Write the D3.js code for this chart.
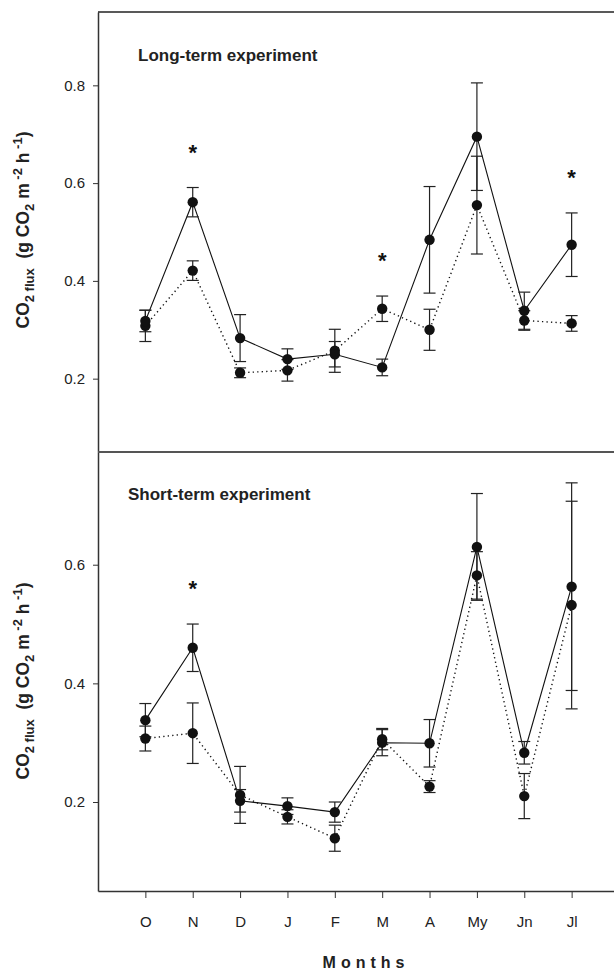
<!DOCTYPE html>
<html>
<head>
<meta charset="utf-8">
<script src="https://cdn.jsdelivr.net/npm/d3@7"></script>
<style>
  body { margin: 0; background: #fff; }
  svg { display: block; font-family: "Liberation Sans", Arial, sans-serif; }
</style>
</head>
<body>
<script>
// months on the x axis
var months = ["O", "N", "D", "J", "F", "M", "A", "My", "Jn", "Jl"];

// long-term experiment (top panel)
var longSolid     = [0.318, 0.561, 0.283, 0.240, 0.250, 0.223, 0.484, 0.695, 0.339, 0.474];
var longSolidErr  = [0.022, 0.030, 0.048, 0.021, 0.026, 0.017, 0.109, 0.110, 0.038, 0.065];
var longDotted    = [0.308, 0.421, 0.212, 0.217, 0.257, 0.343, 0.300, 0.555, 0.319, 0.313];
var longDottedErr = [0.032, 0.020, 0.010, 0.022, 0.044, 0.026, 0.042, 0.100, 0.020, 0.016];
var longStars     = ["N", "M", "Jl"];
var longTicks     = [0.2, 0.4, 0.6, 0.8];

// short-term experiment (bottom panel)
var shortSolid     = [0.338, 0.460, 0.202, 0.193, 0.183, 0.300, 0.299, 0.630, 0.283, 0.563];
var shortSolidErr  = [0.028, 0.040, 0.019, 0.014, 0.017, 0.022, 0.040, 0.090, 0.019, 0.175];
var shortDotted    = [0.307, 0.316, 0.212, 0.175, 0.139, 0.306, 0.226, 0.582, 0.210, 0.532];
var shortDottedErr = [0.021, 0.051, 0.048, 0.012, 0.022, 0.018, 0.010, 0.040, 0.038, 0.175];
var shortStars     = ["N"];
var shortTicks     = [0.2, 0.4, 0.6];

var W = 614, H = 971;
var plotLeft = 98, plotTop = 12, plotMid = 452, plotBottom = 891;

var svg = d3.select("body").append("svg")
    .attr("width", W)
    .attr("height", H);

var x = d3.scalePoint().domain(months).range([plotLeft, 619]).padding(1);

function panel(opt) {
    var y = d3.scaleLinear().domain(opt.domain).range([opt.y1, opt.y0]);
    var g = svg.append("g");

    // left axis
    var ax = g.append("g")
        .attr("transform", "translate(" + plotLeft + ",0)")
        .call(d3.axisLeft(y).tickValues(opt.ticks).tickFormat(d3.format(".1f"))
            .tickSize(5).tickSizeOuter(0).tickPadding(8));
    ax.selectAll("text").style("font-size", "15px").attr("fill", "#222");
    ax.selectAll("line").attr("stroke", "#333");
    ax.select(".domain").attr("stroke", "#333").attr("stroke-width", 1.5);

    // top border of the panel
    g.append("line")
        .attr("x1", plotLeft).attr("x2", W)
        .attr("y1", opt.y0).attr("y2", opt.y0)
        .attr("stroke", opt.borderColor).attr("stroke-width", opt.borderWidth);

    // title
    g.append("text")
        .attr("x", opt.titleX).attr("y", opt.titleY)
        .style("font-size", "17px").style("font-weight", "bold")
        .attr("fill", "#222")
        .text(opt.title);

    // y axis label
    var lab = g.append("text")
        .attr("transform", "translate(29," + opt.labelY + ") rotate(-90)")
        .attr("text-anchor", "middle")
        .style("font-size", "17.5px").style("font-weight", "bold")
        .attr("fill", "#222");
    lab.append("tspan").text("CO");
    lab.append("tspan").attr("dy", 5).style("font-size", "13px").text("2 flux");
    lab.append("tspan").attr("dy", -5).text("\u00a0 (g CO");
    lab.append("tspan").attr("dy", 5).style("font-size", "13px").text("2");
    lab.append("tspan").attr("dy", -5).text(" m");
    lab.append("tspan").attr("dy", -7).style("font-size", "13px").text("\u00a0-2");
    lab.append("tspan").attr("dy", 7).text(" h");
    lab.append("tspan").attr("dy", -7).style("font-size", "13px").text("\u00a0-1");
    lab.append("tspan").attr("dy", 7).text(")");

    var series = [
        {vals: opt.dotted, err: opt.dottedErr, dash: "1.3,3.2"},
        {vals: opt.solid, err: opt.solidErr, dash: null}
    ];

    var line = d3.line()
        .x(function(d, i) { return x(months[i]); })
        .y(function(d) { return y(d); });

    series.forEach(function(s) {
        g.append("path")
            .datum(s.vals)
            .attr("fill", "none")
            .attr("stroke", "#111")
            .attr("stroke-width", s.dash ? 1.4 : 1.1)
            .attr("stroke-dasharray", s.dash)
            .attr("d", line);
    });

    series.forEach(function(s) {
        var eb = g.append("g").attr("stroke", "#222").attr("stroke-width", 1.2);
        s.vals.forEach(function(v, i) {
            var cx = x(months[i]);
            var hi = y(v + s.err[i]), lo = y(v - s.err[i]);
            eb.append("line").attr("x1", cx).attr("x2", cx).attr("y1", hi).attr("y2", lo);
            eb.append("line").attr("x1", cx - 6).attr("x2", cx + 6).attr("y1", hi).attr("y2", hi);
            eb.append("line").attr("x1", cx - 6).attr("x2", cx + 6).attr("y1", lo).attr("y2", lo);
        });
    });

    series.forEach(function(s) {
        g.selectAll(null)
            .data(s.vals)
            .enter()
            .append("circle")
            .attr("cx", function(d, i) { return x(months[i]); })
            .attr("cy", function(d) { return y(d); })
            .attr("r", 5.2)
            .attr("fill", "#111");
    });

    // significance stars
    g.selectAll(null)
        .data(opt.stars)
        .enter()
        .append("text")
        .attr("x", function(m) { return x(m); })
        .attr("y", function(m) {
            var i = months.indexOf(m);
            var t = Math.max(opt.solid[i] + opt.solidErr[i], opt.dotted[i] + opt.dottedErr[i]);
            return y(t) - 37 + 9;
        })
        .attr("text-anchor", "middle")
        .style("font-size", "22px").style("font-weight", "bold")
        .attr("fill", "#111")
        .text("*");

    return y;
}

panel({
    domain: [0.05, 0.95], y0: plotTop, y1: plotMid, ticks: longTicks,
    solid: longSolid, solidErr: longSolidErr, dotted: longDotted, dottedErr: longDottedErr,
    stars: longStars, title: "Long-term experiment", titleX: 138, titleY: 61,
    labelY: 230, borderColor: "#222", borderWidth: 1.5
});

panel({
    domain: [0.05, 0.79], y0: plotMid, y1: plotBottom, ticks: shortTicks,
    solid: shortSolid, solidErr: shortSolidErr, dotted: shortDotted, dottedErr: shortDottedErr,
    stars: shortStars, title: "Short-term experiment", titleX: 128, titleY: 500,
    labelY: 681, borderColor: "#555", borderWidth: 2
});

// x axis
var xa = svg.append("g")
    .attr("transform", "translate(0," + plotBottom + ")")
    .call(d3.axisBottom(x).tickSize(7).tickSizeOuter(0).tickPadding(18));
xa.selectAll("text").style("font-size", "15px").attr("fill", "#222");
xa.selectAll("line").attr("stroke", "#333");
xa.select(".domain").attr("stroke", "#333").attr("stroke-width", 1.5);

svg.append("text")
    .attr("x", 366).attr("y", 968)
    .attr("text-anchor", "middle")
    .style("font-size", "16px").style("font-weight", "bold")
    .style("letter-spacing", "5px")
    .attr("fill", "#222")
    .text("Months");
</script>
</body>
</html>
